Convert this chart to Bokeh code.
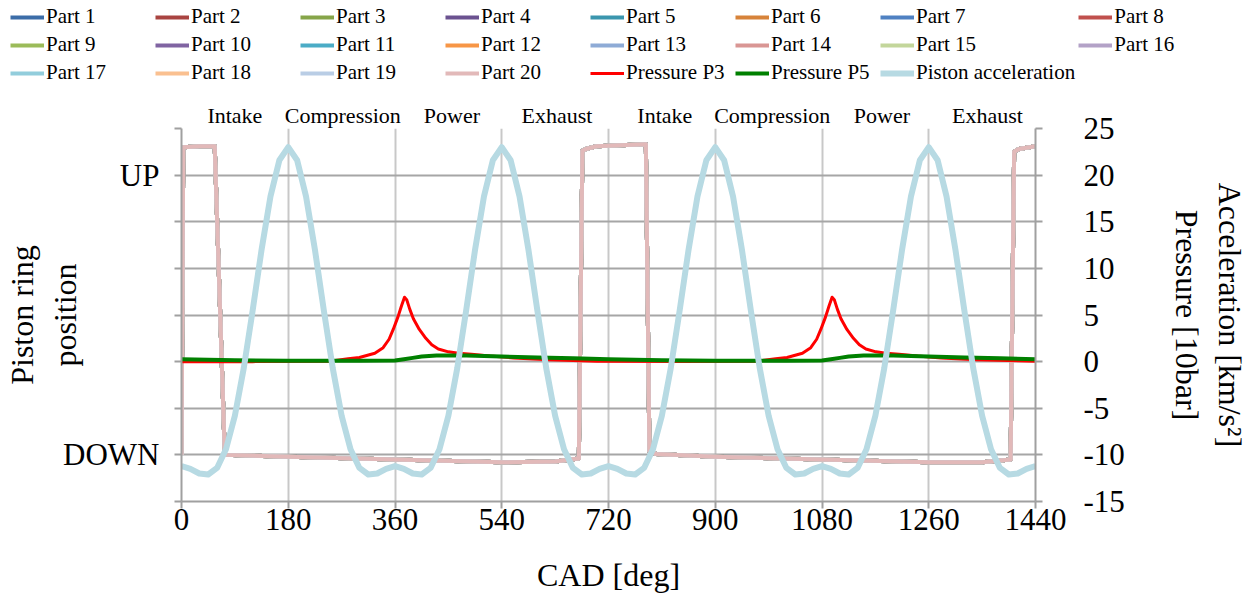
from bokeh.plotting import figure
from bokeh.models import Range1d, LinearAxis, FixedTicker, Legend, LegendItem
from bokeh.embed import file_html
from bokeh.resources import INLINE

SERIF = "Liberation Serif"

# ---------------- data ----------------
part_labels = ["Part 1", "Part 2", "Part 3", "Part 4", "Part 5", "Part 6", "Part 7", "Part 8",
               "Part 9", "Part 10", "Part 11", "Part 12", "Part 13", "Part 14", "Part 15", "Part 16",
               "Part 17", "Part 18", "Part 19", "Part 20"]
part_colors = ["#3C6DA8", "#A94441", "#86A549", "#6B5290", "#3B96AE", "#D7833A", "#4F81C2", "#C0504D",
               "#9BBB59", "#8064A2", "#4BACC6", "#F79646", "#8EABD6", "#D99694", "#C3D69B", "#B3A2C7",
               "#92CDDC", "#FAC090", "#B9CDE5", "#E2B9B9"]

# piston ring position (in right-axis units; UP = 20, DOWN = -10)
ring_cad = [0, 3, 30, 56, 73, 180, 360, 540, 630, 670, 676, 682, 700, 740, 783, 789, 800,
            900, 1080, 1260, 1350, 1398, 1404, 1412, 1440]
ring_pos = [-10.0, 23.0, 23.1, 23.1, -10.0, -10.2, -10.5, -10.8, -10.7, -10.4, 22.6, 22.8, 23.1, 23.2, 23.3, -9.6, -9.9,
            -10.2, -10.5, -10.8, -10.8, -10.5, 22.5, 22.8, 23.1]

# pressure P3 [10 bar]
p3_cad = [0, 120, 250, 281, 300, 326, 340, 350, 357, 365, 371, 376, 380, 385, 391, 401, 412, 422, 433, 450,
          467, 489, 520, 560, 620, 700,
          840, 971, 1002, 1021, 1047, 1061, 1071, 1078, 1086, 1092, 1097, 1101, 1106, 1112, 1122, 1133, 1143,
          1154, 1171, 1188, 1210, 1241, 1281, 1341, 1440]
p3_val = [0.0, 0.0, 0.05, 0.3, 0.45, 0.9, 1.5, 2.4, 3.45, 4.8, 6.0, 6.9, 6.6, 5.6, 4.6, 3.45, 2.5, 1.8, 1.35, 1.05,
          0.9, 0.8, 0.6, 0.4, 0.2, 0.05,
          0.0, 0.05, 0.3, 0.45, 0.9, 1.5, 2.4, 3.45, 4.8, 6.0, 6.9, 6.6, 5.6, 4.6, 3.45, 2.5, 1.8,
          1.35, 1.05, 0.9, 0.8, 0.6, 0.4, 0.2, 0.05]

# pressure P5 [10 bar]
p5_cad = [0, 90, 180, 300, 360, 375, 390, 405, 430, 480, 540, 600, 660, 720, 810, 900, 1020, 1080, 1095,
          1110, 1125, 1150, 1200, 1260, 1320, 1380, 1440]
p5_val = [0.25, 0.15, 0.1, 0.1, 0.12, 0.25, 0.4, 0.55, 0.65, 0.65, 0.55, 0.45, 0.35, 0.25, 0.15, 0.1, 0.1, 0.12, 0.25,
          0.4, 0.55, 0.65, 0.65, 0.55, 0.45, 0.35, 0.25]

# piston acceleration [km/s^2], every 15 deg CAD
acc_cad = list(range(0, 1441, 15))
acc_val = [-11.2, -11.5, -12.0, -12.1, -11.4, -9.4, -5.8, -0.7, 5.5, 12.0, 17.7, 21.6,
           23.0, 21.6, 17.7, 12.0, 5.5, -0.7, -5.8, -9.4, -11.4, -12.1, -12.0, -11.5,
           -11.2, -11.5, -12.0, -12.1, -11.4, -9.4, -5.8, -0.7, 5.5, 12.0, 17.7, 21.6,
           23.0, 21.6, 17.7, 12.0, 5.5, -0.7, -5.8, -9.4, -11.4, -12.1, -12.0, -11.5,
           -11.2, -11.5, -12.0, -12.1, -11.4, -9.4, -5.8, -0.7, 5.5, 12.0, 17.7, 21.6,
           23.0, 21.6, 17.7, 12.0, 5.5, -0.7, -5.8, -9.4, -11.4, -12.1, -12.0, -11.5,
           -11.2, -11.5, -12.0, -12.1, -11.4, -9.4, -5.8, -0.7, 5.5, 12.0, 17.7, 21.6,
           23.0, 21.6, 17.7, 12.0, 5.5, -0.7, -5.8, -9.4, -11.4, -12.1, -12.0, -11.5,
           -11.2]

x_ticks = [0, 180, 360, 540, 720, 900, 1080, 1260, 1440]
y_ticks = [-15, -10, -5, 0, 5, 10, 15, 20, 25]
left_tick_text = {-15: "", -10: "DOWN", -5: "", 0: "", 5: "", 10: "", 15: "", 20: "UP", 25: ""}
right_tick_text = {-15: "-15", -10: "-10", -5: "-5", 0: "0", 5: "5", 10: "10", 15: "15", 20: "20", 25: "25"}

phase_names = ["Intake", "Compression", "Power", "Exhaust", "Intake", "Compression", "Power", "Exhaust"]
phase_cad = [90, 272, 456, 633, 815, 996, 1181, 1359]

series_labels = part_labels + ["Pressure P3", "Pressure P5", "Piston acceleration"]
series_colors = part_colors + ["#FF0000", "#008000", "#B7DAE3"]
series_widths = [4] * 20 + [3, 4, 6]
series_x = [ring_cad] * 20 + [p3_cad, p5_cad, acc_cad]
series_y = [ring_pos] * 20 + [p3_val, p5_val, acc_val]

# ---------------- main figure ----------------
p = figure(width=1252, height=505, output_backend="svg", toolbar_location=None,
           x_range=Range1d(0, 1440), y_range=Range1d(-15, 25),
           min_border_left=180, min_border_right=217, min_border_top=38, min_border_bottom=92)
p.outline_line_color = None
p.background_fill_color = "white"
p.border_fill_color = "white"

p.xgrid.ticker = FixedTicker(ticks=x_ticks)
p.xgrid.grid_line_color = "#C8C8C8"
p.xgrid.grid_line_width = 2
p.ygrid.ticker = FixedTicker(ticks=y_ticks)
p.ygrid.grid_line_color = "#A6A6A6"
p.ygrid.grid_line_width = 2


def style_axis(ax, size="31px"):
    ax.major_label_text_font = SERIF
    ax.major_label_text_font_size = size
    ax.major_label_text_color = "black"
    ax.axis_label_text_font = SERIF
    ax.axis_label_text_font_size = "32px"
    ax.axis_label_text_font_style = "normal"
    ax.axis_label_text_color = "black"
    ax.axis_line_color = "#A0A0A0"
    ax.axis_line_width = 2
    ax.major_tick_line_color = "#A0A0A0"
    ax.major_tick_line_width = 2
    ax.major_tick_in = 0
    ax.major_tick_out = 7
    ax.minor_tick_line_color = None


# bottom axis
xa = p.xaxis[0]
style_axis(xa)
xa.ticker = FixedTicker(ticks=x_ticks)
xa.axis_label = "CAD [deg]"
xa.axis_label_standoff = 24
xa.major_label_standoff = 0

# left axis (piston ring position)
ya = p.yaxis[0]
style_axis(ya)
ya.ticker = FixedTicker(ticks=y_ticks)
ya.major_label_overrides = left_tick_text
ya.major_label_standoff = 15
ya.axis_label = "Piston ring\nposition"
ya.axis_label_standoff = -23

# right axis (pressure / acceleration); lines ordered so Pressure sits on the inner side
ra = LinearAxis(ticker=FixedTicker(ticks=y_ticks))
style_axis(ra)
ra.major_label_overrides = right_tick_text
ra.major_label_standoff = 41
ra.axis_label = "Acceleration [km/s²]\nPressure [10bar]"
ra.axis_label_standoff = 41
p.add_layout(ra, "right")

# phase names above the frame (an extra top axis)
pa = LinearAxis(ticker=FixedTicker(ticks=phase_cad))
pa.major_label_overrides = dict(zip(phase_cad, phase_names))
pa.major_label_text_font = SERIF
pa.major_label_text_font_size = "22px"
pa.major_label_text_color = "black"
pa.major_label_standoff = 1
pa.axis_line_color = None
pa.major_tick_line_color = None
pa.major_tick_in = 0
pa.major_tick_out = 0
pa.minor_tick_line_color = None
p.add_layout(pa, "above")

for xs, ys, col, w in zip(series_x, series_y, series_colors, series_widths):
    p.line(xs, ys, line_color=col, line_width=w, line_join="round")

# ---------------- legend strip above the chart (separate root) ----------------
lf = figure(width=1252, height=90, output_backend="svg", toolbar_location=None,
            x_range=Range1d(0, 1440), y_range=Range1d(1000, 1001), x_axis_type=None, y_axis_type=None,
            min_border=0)
lf.outline_line_color = None
lf.xgrid.visible = False
lf.ygrid.visible = False
items = []
for name, xs, ys, col, w in zip(series_labels, series_x, series_y, series_colors, series_widths):
    r = lf.line(xs, ys, line_color=col, line_width=w)   # same data, outside the strip's view
    items.append(LegendItem(label=name, renderers=[r]))

legend = Legend(items=items, location=(10, 5), orientation="horizontal", ncols=8,
                glyph_width=34, glyph_height=24, label_height=24, label_width=106,
                label_standoff=2, spacing=3, padding=0, margin=0,
                border_line_color=None, background_fill_alpha=0,
                label_text_font=SERIF, label_text_font_size="21px", label_text_color="black")
lf.add_layout(legend)

open("out.html", "w").write(file_html([lf, p], INLINE))
